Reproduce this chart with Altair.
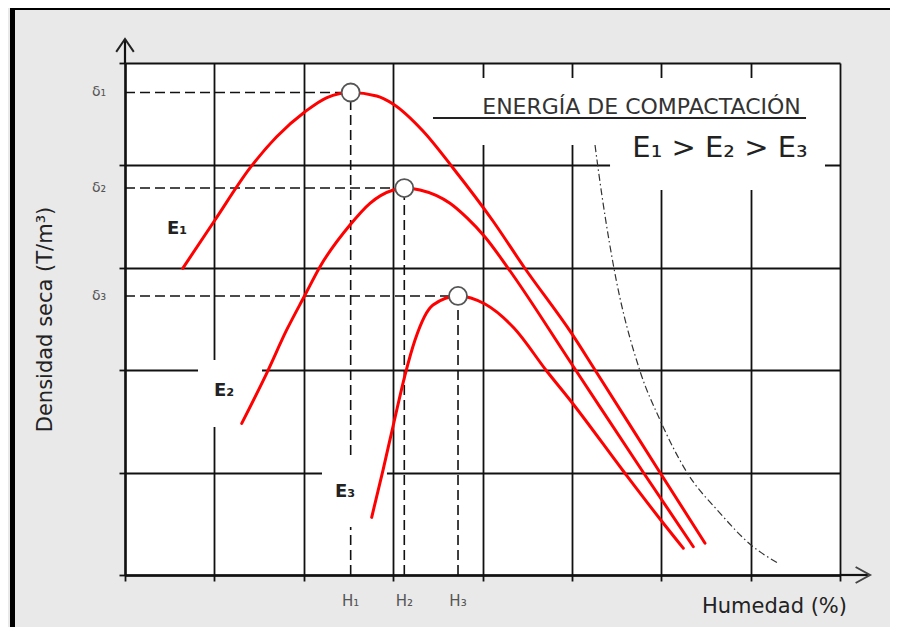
import altair as alt
import pandas as pd

# ---------------- data (grid units: x = humedad, y = densidad seca) ----------------
X_GRID = [0, 1, 2, 3, 4, 5, 6, 7, 8]
Y_GRID = [0, 1, 2, 3, 4, 5]

E1_X = [0.646, 1.007, 1.399, 1.697, 2.014, 2.260, 2.525, 2.816, 2.999, 3.334, 3.670, 4.117, 4.464, 5.001, 5.259, 5.975, 6.490]
E1_Y = [2.995, 3.467, 3.975, 4.280, 4.524, 4.663, 4.712, 4.678, 4.600, 4.336, 3.975, 3.457, 3.008, 2.354, 2.002, 1.016, 0.310]
E2_X = [1.306, 1.585, 1.809, 2.014, 2.182, 2.517, 2.741, 3.002, 3.125, 3.301, 3.636, 3.827, 4.028, 4.285, 5.005, 5.796, 6.359]
E2_Y = [1.481, 1.970, 2.393, 2.734, 3.011, 3.418, 3.630, 3.760, 3.779, 3.760, 3.630, 3.487, 3.301, 2.998, 2.051, 1.006, 0.276]
E3_X = [2.760, 2.887, 3.010, 3.133, 3.245, 3.446, 3.726, 4.028, 4.352, 4.718, 5.005, 5.583, 5.986, 6.247]
E3_Y = [0.563, 1.025, 1.494, 1.953, 2.295, 2.637, 2.725, 2.646, 2.412, 1.992, 1.680, 1.006, 0.547, 0.261]
SAT_X = [5.259, 5.296, 5.460, 5.762, 5.986, 6.285, 6.657, 7.004, 7.310]
SAT_Y = [4.199, 3.955, 3.047, 1.992, 1.514, 1.006, 0.605, 0.293, 0.114]

PEAK_X = [2.525, 3.125, 3.726]
PEAK_Y = [4.712, 3.779, 2.725]
DELTA_LABELS = ["δ₁", "δ₂", "δ₃"]
H_LABELS = ["H₁", "H₂", "H₃"]

CURVE_NAMES = ["E1", "E2", "E3"]
CURVE_LABELS = ["E₁", "E₂", "E₃"]
CURVE_LABEL_X = [0.582, 1.108, 2.462]
CURVE_LABEL_Y = [3.379, 1.797, 0.811]

TITLE_TEXT = "ENERGÍA DE COMPACTACIÓN"
TITLE_X = [5.779]
TITLE_Y = [4.499]
UNDERLINE_X = [3.446]
UNDERLINE_X2 = [7.620]
UNDERLINE_Y = [4.463]
ORDER_TEXT = "E₁ > E₂ > E₃"
ORDER_X = [6.657]
ORDER_Y = [4.082]

# white label backgrounds that interrupt the grid
BOX_X = [3.413, 5.427, 0.817, 2.204]
BOX_X2 = [7.888, 7.832, 1.533, 2.931]
BOX_Y = [4.854, 4.199, 2.100, 1.172]
BOX_Y2 = [4.199, 3.760, 1.445, 0.469]

DELTA_LABEL_X = -0.291
H_LABEL_Y = -0.254
ARROW_TIP_X = 8.336
ARROW_TIP_Y = 5.234

FONT = "DejaVu Sans"

# ---------------- tables ----------------
curves = pd.concat([
    pd.DataFrame({"x": E1_X, "y": E1_Y, "curve": CURVE_NAMES[0]}),
    pd.DataFrame({"x": E2_X, "y": E2_Y, "curve": CURVE_NAMES[1]}),
    pd.DataFrame({"x": E3_X, "y": E3_Y, "curve": CURVE_NAMES[2]}),
], ignore_index=True)
sat = pd.DataFrame({"x": SAT_X, "y": SAT_Y})
peaks = pd.DataFrame({"x": PEAK_X, "y": PEAK_Y, "zero": [0] * 3,
                      "dl": DELTA_LABELS, "hl": H_LABELS,
                      "dlx": [DELTA_LABEL_X] * 3, "hly": [H_LABEL_Y] * 3})
labels = pd.DataFrame({"x": CURVE_LABEL_X, "y": CURVE_LABEL_Y, "t": CURVE_LABELS})
boxes = pd.DataFrame({"x": BOX_X, "x2": BOX_X2, "y": BOX_Y, "y2": BOX_Y2})
corners = pd.DataFrame({"x": [X_GRID[0], X_GRID[-1]], "y": [Y_GRID[0], Y_GRID[-1]]})
title_df = pd.DataFrame({"x": TITLE_X, "y": TITLE_Y, "t": [TITLE_TEXT]})
order_df = pd.DataFrame({"x": ORDER_X, "y": ORDER_Y, "t": [ORDER_TEXT]})
underline_df = pd.DataFrame({"x": UNDERLINE_X, "x2": UNDERLINE_X2, "y": UNDERLINE_Y})
yext = pd.DataFrame({"x": [0], "y": [Y_GRID[-1]], "y2": [ARROW_TIP_Y]})
xext = pd.DataFrame({"y": [0], "x": [X_GRID[-1]], "x2": [ARROW_TIP_X - 0.02]})
ytip = pd.DataFrame({"x": [0], "y": [ARROW_TIP_Y]})
xtip = pd.DataFrame({"x": [ARROW_TIP_X], "y": [0]})
one = pd.DataFrame({"a": [0]})

xs = alt.Scale(domain=[X_GRID[0], X_GRID[-1]], nice=False, zero=False)
ys = alt.Scale(domain=[Y_GRID[0], Y_GRID[-1]], nice=False, zero=False)

INK = "#111111"
x_axis = alt.Axis(values=X_GRID, grid=True, gridColor=INK, gridWidth=1.8, gridOpacity=1,
                  ticks=True, tickColor=INK, tickSize=6, tickWidth=1.8,
                  labels=False, domain=True, domainColor=INK, domainWidth=2.4,
                  title="Humedad (%)", titleX=649, titleY=31, titleAlign="center",
                  titleBaseline="middle", titleFont=FONT, titleFontSize=21,
                  titleFontWeight="normal", titleColor="#222222")
y_axis = alt.Axis(values=Y_GRID, grid=True, gridColor=INK, gridWidth=1.8, gridOpacity=1,
                  ticks=True, tickColor=INK, tickSize=6, tickWidth=1.8,
                  labels=False, domain=True, domainColor=INK, domainWidth=2.4,
                  title="Densidad seca (T/m³)", titleX=-80, titleY=256, titleAngle=270,
                  titleAlign="center", titleBaseline="middle", titleFont=FONT,
                  titleFontSize=21, titleFontWeight="normal", titleColor="#222222")


def X(f="x"):
    return alt.X(f"{f}:Q", scale=xs, axis=x_axis)


def Y(f="y"):
    return alt.Y(f"{f}:Q", scale=ys, axis=y_axis)


axes_layer = alt.Chart(corners).mark_point(opacity=0).encode(x=X("x"), y=Y("y"))

dash = [10, 5]
delta_lines = alt.Chart(peaks).mark_rule(color=INK, strokeWidth=1.6, strokeDash=dash).encode(
    x=X("zero"), x2="x:Q", y=Y("y"))
h_lines = alt.Chart(peaks).mark_rule(color=INK, strokeWidth=1.6, strokeDash=dash).encode(
    x=X("x"), y=Y("zero"), y2="y:Q")

box_layer = alt.Chart(boxes).mark_rect(color="white").encode(
    x=X("x"), x2="x2:Q", y=Y("y"), y2="y2:Q")

underline = alt.Chart(underline_df).mark_rule(color="#222222", strokeWidth=2).encode(
    x=X("x"), x2="x2:Q", y=Y("y"))

red_curves = alt.Chart(curves).mark_line(color="#ff0000", strokeWidth=3,
                                         interpolate="monotone", strokeCap="round").encode(
    x=X("x"), y=Y("y"), detail="curve:N")

sat_curve = alt.Chart(sat).mark_line(color="#333333", strokeWidth=1.2,
                                     strokeDash=[7, 3, 1.5, 3], interpolate="monotone").encode(
    x=X("x"), y=Y("y"))

circles = alt.Chart(peaks).mark_point(shape="circle", filled=True, color="white",
                                      stroke="#555555", strokeWidth=1.8, size=324,
                                      opacity=1).encode(x=X("x"), y=Y("y"))

delta_text = alt.Chart(peaks).mark_text(font=FONT, fontSize=14, color="#555555",
                                        align="center", baseline="middle").encode(
    x=X("dlx"), y=Y("y"), text="dl:N")
h_text = alt.Chart(peaks).mark_text(font=FONT, fontSize=15, color="#555555",
                                    align="center", baseline="middle").encode(
    x=X("x"), y=Y("hly"), text="hl:N")

curve_text = alt.Chart(labels).mark_text(font=FONT, fontSize=18, fontWeight="bold",
                                         color="#222222", align="center",
                                         baseline="middle").encode(
    x=X("x"), y=Y("y"), text="t:N")

title_text = alt.Chart(title_df).mark_text(font=FONT, fontSize=22, color="#333333",
                                           align="center", baseline="alphabetic").encode(
    x=X("x"), y=Y("y"), text="t:N")
order_text = alt.Chart(order_df).mark_text(font=FONT, fontSize=29, color="#222222",
                                           align="center", baseline="alphabetic").encode(
    x=X("x"), y=Y("y"), text="t:N")

y_ext = alt.Chart(yext).mark_rule(color=INK, strokeWidth=2.2).encode(
    x=X("x"), y=Y("y"), y2="y2:Q")
x_ext = alt.Chart(xext).mark_rule(color=INK, strokeWidth=2.2).encode(
    x=X("x"), x2="x2:Q", y=Y("y"))
y_arrow = alt.Chart(ytip).mark_point(shape="M-1.1,1.6L0,0L1.1,1.6", filled=False,
                                     color="#222222", strokeWidth=2, size=256,
                                     opacity=1).encode(x=X("x"), y=Y("y"))
x_arrow = alt.Chart(xtip).mark_point(shape="M-1.8,-1L0,0L-1.8,1", filled=False,
                                     color="#444444", strokeWidth=2, size=256,
                                     opacity=1).encode(x=X("x"), y=Y("y"))

frame_left = alt.Chart(one).mark_rule(color="black", strokeWidth=5).encode(
    x=alt.value(-112.5), y=alt.value(-60), y2=alt.value(580))
frame_top = alt.Chart(one).mark_rule(color="black", strokeWidth=5).encode(
    y=alt.value(-55.5), x=alt.value(-115), x2=alt.value(780))

chart = alt.layer(
    axes_layer, delta_lines, h_lines, box_layer, underline, red_curves, sat_curve,
    circles, delta_text, h_text, curve_text, title_text, order_text,
    y_ext, x_ext, y_arrow, x_arrow, frame_left, frame_top,
).properties(
    width=715, height=512,
    autosize=alt.AutoSizeParams(type="none"),
    padding={"left": 117, "top": 55, "right": 50, "bottom": 52},
    background="#e9e9e9",
).configure_view(fill="white", stroke="transparent")

chart.save("out.html", embed_options={"renderer": "svg", "actions": False})
